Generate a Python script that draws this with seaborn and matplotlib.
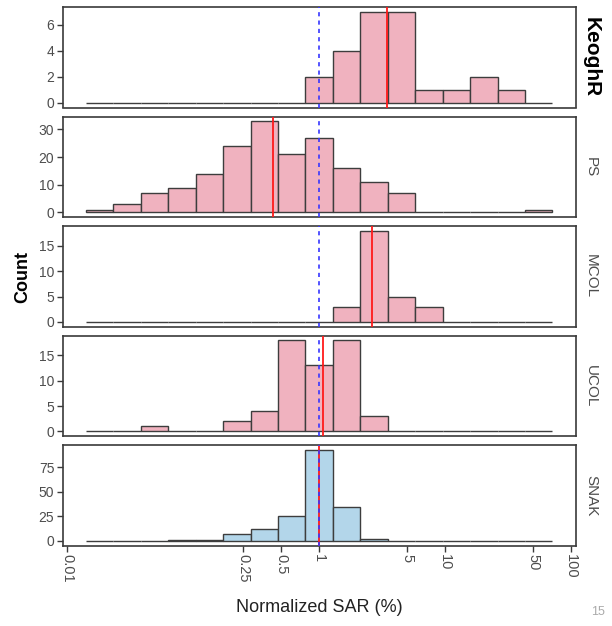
import numpy as np
import pandas as pd
import matplotlib
matplotlib.use("Agg")
import matplotlib.pyplot as plt
from matplotlib.ticker import FixedLocator, NullLocator, MultipleLocator
import seaborn as sns

# ---------------- data ----------------
sites = ["KeoghR", "PS", "MCOL", "UCOL", "SNAK"]
# histogram bin edges in log10(Normalized SAR %)
log_bin_lo, log_bin_hi, n_bins = -1.85, 1.85, 17

counts_keogh = [0, 0, 0, 0, 0, 0, 0, 0, 2, 4, 7, 7, 1, 1, 2, 1, 0]
counts_ps    = [1, 3, 7, 9, 14, 24, 33, 21, 27, 16, 11, 7, 0, 0, 0, 0, 1]
counts_mcol  = [0, 0, 0, 0, 0, 0, 0, 0, 0, 3, 18, 5, 3, 0, 0, 0, 0]
counts_ucol  = [0, 0, 1, 0, 0, 2, 4, 18, 13, 18, 3, 0, 0, 0, 0, 0, 0]
counts_snak  = [0, 0, 0, 1, 1, 7, 12, 25, 93, 35, 2, 0, 0, 0, 0, 0, 0]
all_counts = [counts_keogh, counts_ps, counts_mcol, counts_ucol, counts_snak]

medians = [3.42, 0.433, 2.64, 1.08, 1.0]       # red lines
reference_line = 1.0                             # blue dashed line
y_steps = [2, 10, 5, 5, 25]

x_tick_values = [0.01, 0.25, 0.5, 1, 5, 10, 50, 100]
x_tick_labels = ["0.01", "0.25", "0.5", "1", "5", "10", "50", "100"]

fill_colors = ["#F0B2BF", "#F0B2BF", "#F0B2BF", "#F0B2BF", "#B3D6EA"]

# ---------------- build table ----------------
edges = np.linspace(log_bin_lo, log_bin_hi, n_bins + 1)
centers = 10 ** ((edges[:-1] + edges[1:]) / 2)
rows = []
for s, c in zip(sites, all_counts):
    for x, n in zip(centers, c):
        rows.append({"site": s, "sar": x, "count": n})
df = pd.DataFrame(rows)

# ---------------- figure ----------------
sns.set_theme(style="white")
plt.rcParams["font.family"] = ["Liberation Sans", "DejaVu Sans"]

W, H = 612, 626
fig = plt.figure(figsize=(W / 100, H / 100), dpi=100)

left_px, right_px = 62.7, 575.7
top0, panel_h, gap = 7.0, 100.5, 9.0
xr = log_bin_hi - log_bin_lo
xlim = (10 ** (log_bin_lo - 0.05 * xr), 10 ** (log_bin_hi + 0.05 * xr))

frame_col = "#3a3a3a"
for i, s in enumerate(sites):
    top = top0 + i * (panel_h + gap)
    ax = fig.add_axes([left_px / W, 1 - (top + panel_h) / H,
                       (right_px - left_px) / W, panel_h / H])
    sub = df[df["site"] == s]
    sns.histplot(data=sub, x="sar", weights="count", bins=[float(e) for e in edges],
                 log_scale=True, ax=ax, color=fill_colors[i], alpha=1,
                 edgecolor="#3d3d3d", linewidth=1.0)
    ymax = max(all_counts[i])
    ax.set_ylim(-0.05 * ymax, 1.05 * ymax)
    ax.set_xlim(*xlim)
    ax.axvline(medians[i], color="#ff1a1a", lw=1.3, zorder=5)
    ax.axvline(reference_line, color="#3636ff", lw=1.2,
               ls=(0, (2.5, 2.5)), zorder=6)

    ax.yaxis.set_major_locator(MultipleLocator(y_steps[i]))
    ax.set_ylabel("")
    ax.set_xlabel("")
    for sp in ax.spines.values():
        sp.set_visible(True)
        sp.set_color(frame_col)
        sp.set_linewidth(1.2)
    ax.tick_params(axis="y", left=True, direction="out", length=4,
                   width=1, color=frame_col, labelcolor="#4d4d4d",
                   labelsize=10, pad=2)
    ax.xaxis.set_minor_locator(NullLocator())
    if i < len(sites) - 1:
        ax.xaxis.set_major_locator(NullLocator())
        ax.tick_params(axis="x", bottom=False, labelbottom=False)
    else:
        ax.xaxis.set_major_locator(FixedLocator(x_tick_values))
        ax.set_xticklabels(x_tick_labels, rotation=-90)
        ax.tick_params(axis="x", bottom=True, direction="out", length=4,
                       width=1, color=frame_col, labelcolor="#4d4d4d",
                       labelsize=10.5, pad=2)
    if i == 0:
        ax.text(1.03, 0.5, s, transform=ax.transAxes, rotation=-90,
                ha="center", va="center", fontsize=15,
                fontweight="bold", color="black")
    else:
        ax.text(1.03, 0.5, s, transform=ax.transAxes, rotation=-90,
                ha="center", va="center", fontsize=11, color="#4d4d4d")

fig.text(23 / W, 1 - 277 / H, "Count", rotation=90, ha="center",
         va="center", fontsize=13, fontweight="bold", color="black")
fig.text((left_px + right_px) / 2 / W, 1 - 607 / H, "Normalized SAR (%)",
         ha="center", va="center", fontsize=13, color="#222222")
fig.text(598 / W, 1 - 612 / H, "15", ha="center", va="center",
         fontsize=9, color="#aaaaaa")

fig.savefig("out.png", dpi=100)
